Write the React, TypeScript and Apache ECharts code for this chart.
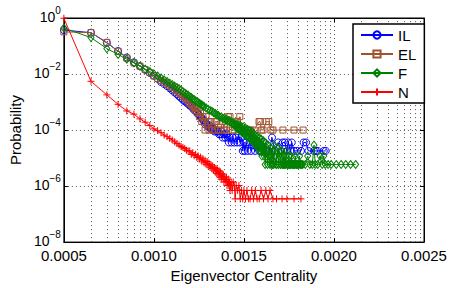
import React, { useEffect, useRef } from 'react';
import * as echarts from 'echarts';

const seriesNames = ['IL', 'EL', 'F', 'N'];
const seriesColors = ['#0000ff', '#a0522d', '#008000', '#ff0000'];
const xTickLabels = ['0.0005', '0.0010', '0.0015', '0.0020', '0.0025'];

const ilData: [number, number][] = [
  [1,0.37],[2,0.30],[3,0.13],[4,0.066],[5,0.039],[6,0.026],[7,0.019],[8,0.0142],[9,0.011],[10,0.0087],
  [11,0.0068],[12,0.0052],[13,0.0044],[14,0.0037],[15,0.0031],[16,0.0026],[17,0.0022],[18,0.0019],[19,0.0016],[20,0.0014],
  [21,0.0012],[22,0.00105],[23,0.00095],[24,0.00085],[25,0.00075],[26,0.00068],[27,0.0006],[28,0.00052],[29,0.00047],[30,0.00043],
  [31,0.00036],[32,0.00034],[33,0.0003],[34,0.00027],[35,0.00023],[36,0.00021],[37,0.00016],[38,0.00018],[39,0.00016],[40,0.00014],
  [41,0.000125],[42,0.00014],[43,0.00011],[44,0.000125],[45,0.0001],[46,0.00011],[47,0.000089],[48,0.0001],[50,0.000089],[52,0.000089],
  [53,0.000071],[55,0.000071],[57,0.000089],[58,0.000054],[60,0.000071],[62,0.000054],[64,0.000071],[66,0.000054],[68,0.000036],[70,0.000054],
  [73,0.000036],[75,0.000054],[78,0.000036],[81,0.000054],[84,0.000036],[87,0.000071],[90,0.000036],[94,0.000054],[97,0.000018],[100,0.000036],
  [102,0.000018],[106,0.000036],[110,0.000018],[115,0.000036],[120,0.000018],[126,0.000036],[133,0.000018],[140,0.000036],[148,0.000018],[155,0.000018],
  [165,0.000036],[175,0.000018],[190,0.000018],[205,0.000054],[220,0.000018],[240,0.000036],[260,0.000018],[270,0.000036],[285,0.000036],[300,0.000018],
  [310,0.000036],[330,0.000018],[340,0.000036],[360,0.000018],[390,0.000018],[430,0.000018],[460,0.000036],[490,0.000036],[520,0.000018],[600,0.000018],
  [630,0.000018],[660,0.000018],[770,0.000018],[810,0.000018]
];

const elData: [number, number][] = [
  [1,0.32],[2,0.30],[3,0.135],[4,0.065],[5,0.037],[6,0.025],[7,0.019],[8,0.0145],[9,0.0112],[10,0.0085],
  [11,0.0070],[12,0.0059],[13,0.0050],[14,0.0044],[15,0.0038],[16,0.0033],[17,0.0028],[18,0.0025],[19,0.0021],[20,0.0019],
  [21,0.0016],[22,0.0014],[23,0.0013],[24,0.0011],[25,0.0009],[26,0.0008],[27,0.0007],[28,0.0006],[29,0.0005],[30,0.0006],
  [31,0.0004],[32,0.0003],[33,0.0004],[34,0.0002],[35,0.0003],[36,0.0002],[37,0.0001],[38,0.0003],[40,0.0002],[41,0.0001],
  [43,0.0002],[45,0.0001],[47,0.0001],[48,0.0002],[50,0.0002],[52,0.0001],[55,0.0001],[58,0.0002],[61,0.0001],[64,0.0001],
  [67,0.0003],[70,0.0003],[74,0.0001],[78,0.0001],[84,0.0002],[90,0.0003],[95,0.0001],[101,0.0001],[110,0.0001],[118,0.0001],
  [130,0.0001],[147,0.0002],[151,0.0002],[156,0.0001],[163,0.0001],[177,0.0002],[189,0.0002],[199,0.0001],[210,0.0001],[271,0.0001],
  [360,0.0001],[454,0.0001]
];

const fData: [number, number][] = [
  [1,0.44],[2,0.20],[3,0.081],[4,0.050],[5,0.034],[6,0.025],[7,0.019],[8,0.015],[9,0.0123],[10,0.0102],
  [11,0.0085],[12,0.0072],[13,0.0062],[14,0.0054],[15,0.0047],[16,0.0042],[17,0.0037],[18,0.0033],[19,0.0030],[20,0.0027],
  [21,0.00235],[22,0.0021],[23,0.0019],[24,0.00175],[25,0.00155],[26,0.00145],[27,0.0013],[28,0.00122],[29,0.0011],[30,0.00105],
  [31,0.00095],[32,0.0009],[33,0.00083],[34,0.00079],[35,0.00073],[36,0.0007],[38,0.00062],[40,0.00055],[42,0.0005],[44,0.00047],
  [46,0.00042],[48,0.00039],[50,0.00035],[52,0.00033],[54,0.00029],[56,0.000295],[58,0.00026],[60,0.000265],[62,0.00023],[64,0.00024],
  [66,0.000205],[68,0.00022],[70,0.00019],[72,0.000205],[74,0.00017],[76,0.000185],[78,0.00015],[80,0.00017],[81,0.00013],[82,0.000145],
  [83,0.00012],[84,0.00016],[85,0.000115],[86,0.00013],[87,0.00011],[88,0.00015],[89,0.0001],[90,0.00012],[91,0.000095],[92,0.00014],
  [93,0.00009],[95,0.00011],[96,0.000082],[98,0.00013],[99,0.000076],[101,0.0001],[102,0.00007],[104,0.00012],[105,0.000065],[107,0.00009],
  [108,0.00006],[110,0.000105],[111,0.000059],[113,0.000082],[114,0.000053],[116,0.000095],[117,0.000047],[119,0.000071],[120,0.000047],[122,0.000088],
  [123,0.000041],[125,0.000065],[126,0.000041],[128,0.000076],[129,0.000035],[131,0.000053],[132,0.000035],[134,0.000065],[135,0.000029],[137,0.000047],
  [138,0.000029],[140,0.000059],[142,0.0000235],[144,0.000041],[146,0.0000235],[148,0.000053],[150,0.0000176],[152,0.000035],[154,0.0000176],[156,0.000047],
  [158,0.0000118],[160,0.000029],[162,0.0000176],[165,0.000041],[167,0.0000118],[170,0.0000235],[172,0.0000059],[175,0.000035],[178,0.0000118],[180,0.0000176],
  [183,0.0000059],[186,0.000029],[189,0.0000118],[192,0.0000118],[195,0.0000059],[198,0.0000235],[201,0.0000118],[204,0.0000059],[207,0.0000059],[210,0.0000176],
  [214,0.0000059],[217,0.000029],[220,0.0000118],[224,0.0000118],[228,0.0000059],[231,0.0000059],[238,0.0000235],[242,0.0000059],[246,0.0000118],[250,0.0000176],
  [254,0.0000059],[258,0.0000059],[262,0.0000176],[266,0.0000118],[270,0.0000059],[274,0.0000059],[279,0.0000118],[283,0.0000059],[288,0.0000059],[292,0.0000118],
  [297,0.0000176],[301,0.0000059],[306,0.0000059],[311,0.0000059],[316,0.0000118],[321,0.0000059],[326,0.0000059],[331,0.0000059],[337,0.0000118],[342,0.0000059],
  [348,0.0000059],[354,0.0000059],[360,0.0000059],[366,0.0000059],[372,0.0000118],[378,0.0000059],[385,0.0000059],[392,0.0000059],[400,0.0000059],[407,0.0000059],
  [415,0.0000118],[422,0.0000059],[430,0.0000059],[440,0.0000059],[450,0.0000059],[480,0.0000059],[510,0.0000118],[540,0.0000059],[575,0.0000059],[600,0.000029],
  [620,0.0000059],[660,0.0000059],[700,0.0000118],[740,0.0000059],[770,0.0000118],[800,0.0000059],[860,0.0000059],[930,0.0000059],[1060,0.0000059],[1200,0.0000059],
  [1350,0.0000059],[1530,0.0000059],[1740,0.0000059]
];

const nData: [number, number][] = [
  [1,0.98],[2,0.0055],[3,0.0018],[4,0.00083],[5,0.00048],[6,0.00037],[7,0.00025],[8,0.00019],[9,0.000145],[10,0.00011],
  [11,0.000095],[12,0.00008],[13,0.000066],[14,0.000058],[15,0.00005],[16,0.000044],[17,0.000038],[18,0.000033],[19,0.000029],[20,0.000026],
  [21,0.000024],[22,0.000022],[23,0.000019],[24,0.000018],[25,0.000018],[26,0.0000135],[27,0.0000155],[28,0.000012],[29,0.0000135],[30,0.0000105],
  [31,0.000012],[32,0.0000092],[33,0.0000108],[34,0.0000078],[35,0.0000095],[36,0.0000068],[37,0.0000084],[38,0.000006],[39,0.0000075],[40,0.0000053],
  [41,0.0000066],[42,0.0000047],[43,0.0000058],[44,0.0000042],[45,0.0000052],[46,0.0000037],[47,0.0000046],[48,0.0000032],[49,0.0000042],[50,0.0000028],
  [51,0.0000038],[52,0.0000025],[53,0.0000035],[54,0.0000021],[55,0.0000032],[56,0.00000175],[57,0.0000028],[58,0.0000021],[59,0.0000025],[60,0.0000014],
  [61,0.0000021],[62,0.00000175],[63,0.0000014],[64,0.0000021],[65,0.00000105],[66,0.0000014],[67,0.00000175],[68,0.00000105],[69,0.0000014],[70,0.0000007],
  [71,0.00000105],[72,0.0000014],[74,0.0000007],[76,0.0000014],[78,0.00000105],[80,0.00000035],[82,0.00000105],[85,0.0000007],[88,0.00000105],[91,0.00000035],
  [94,0.0000007],[97,0.00000035],[100,0.0000007],[104,0.00000035],[108,0.0000007],[112,0.00000035],[117,0.00000035],[122,0.0000007],[128,0.00000035],[134,0.0000007],
  [140,0.00000035],[148,0.00000035],[155,0.0000007],[165,0.00000035],[175,0.0000007],[185,0.00000035],[195,0.0000007],[210,0.00000035],[230,0.00000035],[265,0.00000035],
  [300,0.00000035],[360,0.00000035],[430,0.00000035]
];

const FONT = '"Liberation Sans", Arial, Helvetica, sans-serif';

export default function App() {
  const ref = useRef<HTMLDivElement>(null);
  useEffect(() => {
    if (!ref.current) return;
    const chart = echarts.init(ref.current, undefined, { renderer: 'svg' });

    const minorX: number[] = [];
    for (let d = 1; d <= 1000; d *= 10) {
      for (let k = 2; k <= 9; k++) minorX.push(k * d);
    }
    const dotted = { type: [1, 3] as number[], color: '#555', width: 1 };

    const plusPath = 'path://M5,0V10M0,5H10';
    const symbols = ['circle', 'rect', 'diamond', plusPath];
    const sizes: any[] = [7, 6, [6, 8], 7];
    const datasets = [ilData, elData, fData, nData];

    const series: any[] = [
      {
        type: 'line',
        data: [],
        silent: true,
        z: 1,
        markLine: {
          silent: true,
          z: 1,
          animation: false,
          symbol: ['none', 'none'],
          label: { show: false },
          emphasis: { disabled: true },
          lineStyle: dotted,
          data: minorX.map((v) => ({ xAxis: v })),
        },
      },
    ];
    seriesNames.forEach((name, i) => {
      series.push({
        type: 'line',
        name,
        data: datasets[i],
        symbol: symbols[i],
        symbolSize: sizes[i],
        showSymbol: true,
        showAllSymbol: true,
        z: 2 + i,
        lineStyle: { color: seriesColors[i], width: 1 },
        itemStyle: { color: 'none', borderColor: seriesColors[i], borderWidth: 1 },
        emphasis: { disabled: true },
      });
    });

    const axisCommon = {
      axisLine: { show: true, lineStyle: { color: '#000', width: 1 } },
      axisTick: { show: true, inside: true, length: 4, lineStyle: { color: '#000', width: 1 } },
    };

    chart.setOption({
      animation: false,
      textStyle: { fontFamily: FONT },
      grid: {
        left: 60, right: 26, top: 18, bottom: 36,
        show: true, borderColor: '#000', borderWidth: 1, backgroundColor: 'transparent',
      },
      legend: {
        data: seriesNames,
        orient: 'vertical',
        left: 353,
        top: 24,
        padding: [3, 8, 3, 7],
        itemGap: 3,
        itemWidth: 32,
        itemHeight: 9,
        selectedMode: false,
        backgroundColor: '#fff',
        borderColor: '#000',
        borderWidth: 1.5,
        borderRadius: 0,
        textStyle: { fontSize: 15, color: '#000', lineHeight: 16, fontFamily: FONT },
      },
      xAxis: [
        {
          type: 'log', logBase: 10, min: 1, max: 10000, splitNumber: 4,
          name: 'Eigenvector Centrality', nameLocation: 'middle', nameGap: 21,
          nameTextStyle: { fontSize: 15, color: '#000', fontFamily: FONT },
          ...axisCommon,
          axisLabel: {
            fontSize: 15, color: '#000', margin: 6, fontFamily: FONT,
            formatter: (v: number) => xTickLabels[Math.round(Math.log10(v))] ?? '',
          },
          splitLine: { show: true, lineStyle: dotted },
        },
        {
          type: 'log', logBase: 10, min: 1, max: 10000, splitNumber: 4, position: 'top',
          ...axisCommon,
          axisLabel: { show: false },
          splitLine: { show: false },
        },
      ],
      yAxis: [
        {
          type: 'log', logBase: 100, min: 1e-8, max: 1, splitNumber: 4,
          name: 'Probability', nameLocation: 'middle', nameGap: 36,
          nameTextStyle: { fontSize: 15, color: '#000', fontFamily: FONT },
          ...axisCommon,
          axisLabel: {
            margin: 3, color: '#000', fontFamily: FONT, verticalAlign: 'middle',
            padding: [0, 0, 3, 0],
            formatter: (v: number) => {
              const e = Math.round(Math.log10(v));
              return `{b|10}{s|${e < 0 ? '\u2212' + Math.abs(e) : e}}`;
            },
            rich: {
              b: { fontSize: 14, lineHeight: 23, color: '#000', fontFamily: FONT },
              s: { fontSize: 10, lineHeight: 10, verticalAlign: 'top', color: '#000', fontFamily: FONT },
            },
          },
          splitLine: { show: true, lineStyle: dotted },
        },
        {
          type: 'log', logBase: 100, min: 1e-8, max: 1, splitNumber: 4, position: 'right',
          ...axisCommon,
          axisLabel: { show: false },
          splitLine: { show: false },
        },
      ],
      series,
    });
    return () => chart.dispose();
  }, []);
  return (
    <div
      ref={ref}
      style={{ position: 'absolute', left: 0, top: 0, width: 450, height: 288, background: '#fff' }}
    />
  );
}
